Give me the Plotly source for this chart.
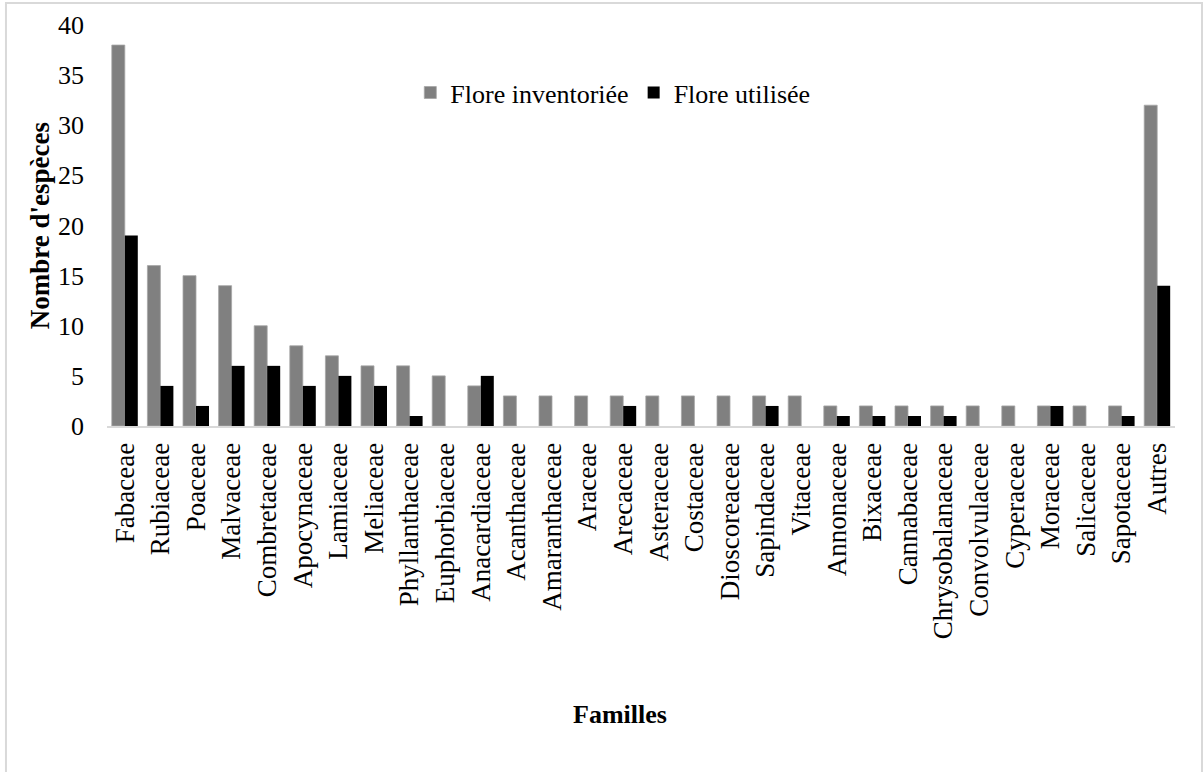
import plotly.graph_objects as go

# Plant families (x categories)
familles = [
    "Fabaceae", "Rubiaceae", "Poaceae", "Malvaceae", "Combretaceae",
    "Apocynaceae", "Lamiaceae", "Meliaceae", "Phyllanthaceae", "Euphorbiaceae",
    "Anacardiaceae", "Acanthaceae", "Amaranthaceae", "Araceae", "Arecaceae",
    "Asteraceae", "Costaceae", "Dioscoreaceae", "Sapindaceae", "Vitaceae",
    "Annonaceae", "Bixaceae", "Cannabaceae", "Chrysobalanaceae", "Convolvulaceae",
    "Cyperaceae", "Moraceae", "Salicaceae", "Sapotaceae", "Autres",
]

# Number of species per family
flore_inventoriee = [38, 16, 15, 14, 10, 8, 7, 6, 6, 5,
                     4, 3, 3, 3, 3, 3, 3, 3, 3, 3,
                     2, 2, 2, 2, 2, 2, 2, 2, 2, 32]
flore_utilisee = [19, 4, 2, 6, 6, 4, 5, 4, 1, 0,
                  5, 0, 0, 0, 2, 0, 0, 0, 2, 0,
                  1, 1, 1, 1, 0, 0, 2, 0, 1, 14]

y_ticks = [0, 5, 10, 15, 20, 25, 30, 35, 40]

FONT = "Liberation Serif, Times New Roman, serif"

fig = go.Figure()
fig.add_trace(go.Bar(
    x=familles, y=flore_inventoriee, name="Flore inventoriée",
    marker=dict(color="#808080", line=dict(color="#a6a6a6", width=0.8)),
))
fig.add_trace(go.Bar(
    x=familles, y=flore_utilisee, name="Flore utilisée",
    marker=dict(color="#000000", line=dict(width=0)),
))

fig.update_layout(
    width=1204, height=772,
    margin=dict(l=107, r=29, t=25, b=346),
    paper_bgcolor="white", plot_bgcolor="white",
    barmode="group", bargap=0.27, bargroupgap=0,
    font=dict(family=FONT, size=26, color="black"),
    showlegend=True,
    legend=dict(
        orientation="h", x=0.284, y=0.89, xanchor="left", yanchor="top",
        font=dict(family=FONT, size=26, color="black"),
        bgcolor="rgba(0,0,0,0)", itemwidth=30, tracegroupgap=0,
    ),
    xaxis=dict(
        type="category", tickangle=-90, showgrid=False, zeroline=False,
        showline=True, linecolor="#d9d9d9", linewidth=2,
        ticks="", tickfont=dict(family=FONT, size=27, color="black"),
        ticklabelstandoff=4,
    ),
    yaxis=dict(
        range=[0, 40], tickvals=y_ticks, showgrid=False, zeroline=False,
        showline=False, ticks="", tickfont=dict(family=FONT, size=26, color="black"),
        ticklabelstandoff=22,
    ),
    annotations=[
        dict(text="<b>Nombre d'espèces</b>", textangle=-90, xref="paper", yref="paper",
             x=-0.063, y=0.5, xanchor="center", yanchor="middle", showarrow=False,
             font=dict(family=FONT, size=27, color="black")),
        dict(text="<b>Familles</b>", xref="paper", yref="paper",
             x=0.48, y=-0.72, xanchor="center", yanchor="middle", showarrow=False,
             font=dict(family=FONT, size=26, color="black")),
    ],
    shapes=[
        dict(type="rect", xref="paper", yref="paper",
             x0=-0.0946, x1=1.0253, y0=-0.9, y1=1.0549,
             line=dict(color="#d9d9d9", width=2), fillcolor="rgba(0,0,0,0)", layer="below"),
    ],
)

fig.write_html("out.html")
